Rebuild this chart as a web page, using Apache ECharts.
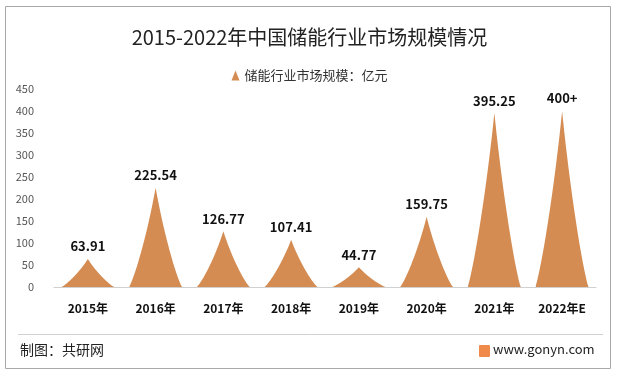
<!DOCTYPE html>
<html>
<head>
<meta charset="utf-8">
<script src="https://cdn.jsdelivr.net/npm/echarts@6/dist/echarts.min.js"></script>
<style>
  html, body { margin: 0; padding: 0; background: #fff; }
  #main { width: 619px; height: 376px; }
</style>
</head>
<body>
<div id="main"></div>
<script>
var years = ['2015年', '2016年', '2017年', '2018年', '2019年', '2020年', '2021年', '2022年E'];
var values = [63.91, 225.54, 126.77, 107.41, 44.77, 159.75, 395.25, 400];
var valueLabels = ['63.91', '225.54', '126.77', '107.41', '44.77', '159.75', '395.25', '400+'];

var font = '"Noto Sans CJK SC", "Noto Sans", sans-serif';
// slightly concave spike
var spike = 'path://M0,10 L10,10 C8.8,8.8 6.5,4.5 5,0 C3.5,4.5 1.2,8.8 0,10 z';

var chart = echarts.init(document.getElementById('main'));
chart.setOption({
    backgroundColor: '#fff',
    animation: false,
    title: {
        text: '2015-2022年中国储能行业市场规模情况',
        left: 'center',
        top: 22,
        textStyle: { fontFamily: font, fontSize: 20, fontWeight: 'normal', color: '#222' }
    },
    legend: {
        top: 64,
        left: 'center',
        itemWidth: 8,
        itemHeight: 10,
        itemGap: 4,
        icon: 'triangle',
        textStyle: { fontFamily: font, fontSize: 13, color: '#333' },
        data: ['储能行业市场规模：亿元']
    },
    grid: { left: 54, right: 23, top: 89, bottom: 89 },
    xAxis: {
        type: 'category',
        data: years,
        axisTick: { show: false },
        axisLine: { lineStyle: { color: '#d0d0d0' } },
        axisLabel: { fontFamily: font, fontSize: 12, fontWeight: 'bold', color: '#111', margin: 15 }
    },
    yAxis: {
        type: 'value',
        min: 0,
        max: 450,
        interval: 50,
        splitLine: { show: false },
        axisLine: { show: false },
        axisTick: { show: false },
        axisLabel: { fontFamily: font, fontSize: 11, color: '#555', margin: 20 }
    },
    series: [{
        name: '储能行业市场规模：亿元',
        type: 'pictorialBar',
        symbol: spike,
        barCategoryGap: '22%',
        itemStyle: { color: '#d48c52' },
        label: {
            show: true,
            position: 'top',
            distance: 6,
            fontFamily: font,
            fontSize: 13,
            fontWeight: 'bold',
            color: '#111',
            formatter: function (p) { return valueLabels[p.dataIndex]; }
        },
        data: values
    }],
    graphic: [
        {
            type: 'rect',
            shape: { x: 5.5, y: 6.5, width: 605, height: 362 },
            style: { fill: 'none', stroke: '#a8a8a8', lineWidth: 1 },
            silent: true
        },
        {
            type: 'line',
            shape: { x1: 18, y1: 334.5, x2: 603, y2: 334.5 },
            style: { stroke: '#d0d0d0', lineWidth: 1 }
        },
        {
            type: 'text',
            left: 20,
            top: 343,
            style: { text: '制图：共研网', font: '14px ' + font, fill: '#222' }
        },
        {
            type: 'rect',
            shape: { x: 479, y: 345, width: 11, height: 12, r: 1 },
            style: { fill: '#f08a4b' }
        },
        {
            type: 'text',
            left: 493,
            top: 343,
            style: { text: 'www.gonyn.com', font: '13px ' + font, fill: '#222' }
        }
    ]
});
</script>
</body>
</html>
